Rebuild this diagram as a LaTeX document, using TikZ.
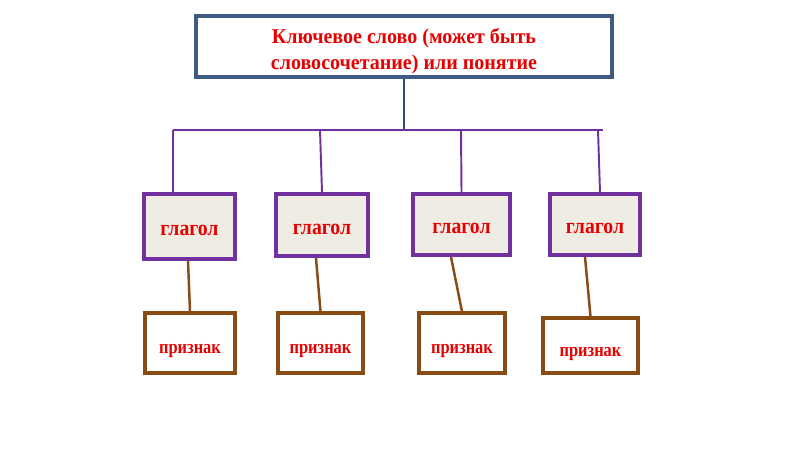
\documentclass[tikz,border=0pt]{standalone}
\usepackage{fontspec}
\setmainfont{Liberation Serif}
\newfontfamily\keyfont[FakeStretch=0.95]{Liberation Serif}
\newfontfamily\verbfont[FakeStretch=0.9]{Liberation Serif}
\newfontfamily\signfont[FakeStretch=0.85]{Liberation Serif}
\usetikzlibrary{calc}
\definecolor{frame}{HTML}{3E5B84}
\definecolor{stem}{HTML}{2F4A6E}
\definecolor{violet}{HTML}{7030A0}
\definecolor{umber}{HTML}{8A4A14}
\definecolor{paper}{HTML}{EEECE3}
\definecolor{scarlet}{HTML}{E80000}

\begin{document}
\begin{tikzpicture}[
  every node/.style={text=scarlet,font=\bfseries},
  keybox/.style={draw=frame,line width=2.3pt,fill=white,
    minimum width=8.32cm,minimum height=1.22cm,align=center,
    inner sep=0pt,
    font=\keyfont\fontsize{12}{14.5}\selectfont\bfseries},
  verbbox/.style={draw=violet,line width=2.3pt,fill=paper,anchor=north,
    minimum height=1.28cm,inner sep=0pt,text height=10.5pt,text depth=0pt,
    font=\verbfont\fontsize{12.5}{15}\selectfont\bfseries},
  signbox/.style={draw=umber,line width=2pt,fill=white,anchor=south,
    minimum height=1.2cm,inner sep=0pt,text height=12pt,text depth=0pt,
    font=\signfont\fontsize{11}{13}\selectfont\bfseries},
  bus/.style={violet,line width=1.1pt},
  tie/.style={umber,line width=1.4pt}]
  \fill[white] (0,0) rectangle (16,9);

  \node[keybox] (key) at (8.08,8.07)
    {\rule{0pt}{14pt}Ключевое слово (может быть\\словосочетание) или понятие};

  \node[verbbox,minimum width=1.82cm,minimum height=1.30cm] (v1) at (3.79,5.16) {глагол};
  \node[verbbox,minimum width=1.84cm,minimum height=1.24cm] (v2) at (6.44,5.16) {глагол};
  \node[verbbox,minimum width=1.94cm,minimum height=1.22cm] (v3) at (9.23,5.16) {глагол};
  \node[verbbox,minimum width=1.80cm,minimum height=1.22cm] (v4) at (11.90,5.16) {глагол};

  \node[signbox,minimum width=1.80cm] (p1) at (3.80,1.50) {признак};
  \node[signbox,minimum width=1.70cm] (p2) at (6.41,1.50) {признак};
  \node[signbox,minimum width=1.72cm] (p3) at (9.24,1.50) {признак};
  \node[signbox,minimum width=1.90cm,minimum height=1.10cm] (p4) at (11.81,1.50) {признак};

  % bus under the key word
  \coordinate (j0) at (8.08,6.4);
  \coordinate (j1) at (3.46,6.4);
  \coordinate (j2) at (6.40,6.4);
  \coordinate (j3) at (9.22,6.4);
  \coordinate (j4) at (11.96,6.4);
  \coordinate (jr) at (12.06,6.4);
  \draw[stem,line width=1.4pt] (key.south) -- (j0);
  \draw[bus] (j1) -- (jr);
  \draw[bus] (j1) -- ([xshift=-0.33cm]v1.north);
  \draw[bus] (j2) -- (v2.north);
  \draw[bus] (j3) -- (v3.north);
  \draw[bus] (j4) -- ([xshift=0.1cm]v4.north);

  \draw[tie] ([xshift=-0.03cm]v1.south) -- (p1.north);
  \draw[tie] ([xshift=-0.12cm]v2.south) -- (p2.north);
  \draw[tie] ([xshift=-0.21cm]v3.south) -- (p3.north);
  \draw[tie] ([xshift=-0.20cm]v4.south) -- (p4.north);
\end{tikzpicture}
\end{document}
